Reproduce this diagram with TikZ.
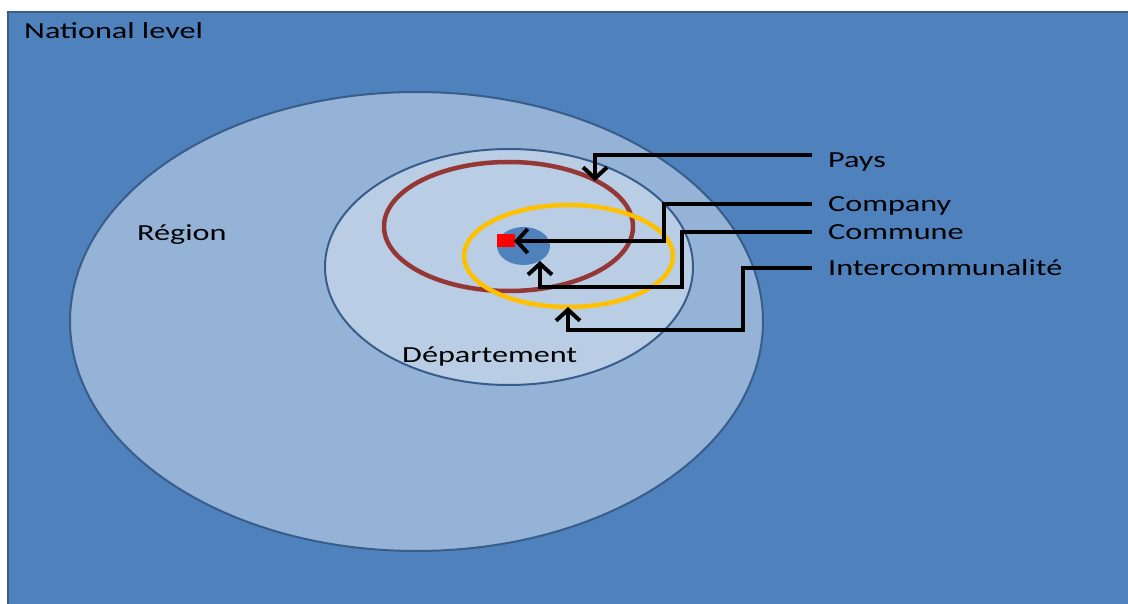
\documentclass[tikz,border=0pt]{standalone}
\usepackage{fontspec}
\setmainfont[FakeStretch=1.4]{Carlito}
\usetikzlibrary{arrows.meta}
\definecolor{natblue}{HTML}{4F81BD}
\definecolor{rimblue}{HTML}{385D8A}
\definecolor{regfill}{HTML}{95B3D7}
\definecolor{depfill}{HTML}{B9CDE5}
\definecolor{paysred}{HTML}{953735}
\definecolor{interyel}{HTML}{FFC000}
\tikzset{
  lvl/.style={fill=#1, draw=rimblue, line width=2pt},
  ring/.style={draw=#1, line width=4.5pt},
  lbl/.style={anchor=base west, inner sep=0pt, text height=15pt, text depth=0pt},
  side/.style={lbl, inner xsep=16pt},
  pointer/.style={->, draw=black, line width=4pt, line join=miter}
}
\begin{document}
\begin{tikzpicture}[x=1pt, y=-1pt, >={Straight Barb[length=11pt,width=24pt]},
    font=\fontsize{23}{27}\selectfont]
  \useasboundingbox (0,0) rectangle (1128,604);
  % national level
  \fill[natblue] (8,12) rectangle (1128,604);
  \draw[rimblue, line width=2.5pt] (8,604) -- (8,12) -- (1128,12);
  \node[lbl] (national) at (24,39) {National level};
  % nested levels
  \draw[lvl=regfill] (416.5,321.5) ellipse [x radius=346.5, y radius=229.5];
  \draw[lvl=depfill] (509,267) ellipse [x radius=184, y radius=118];
  \draw[ring=paysred] (508.5,226.5) ellipse [x radius=124.5, y radius=64.5];
  \draw[ring=interyel] (568.5,256) ellipse [x radius=104.5, y radius=51];
  \fill[natblue] (523.5,246) ellipse [x radius=26.5, y radius=19];
  \fill[red] (497,234) rectangle (515,247);
  \node[lbl] (region) at (137,241) {Région};
  \node[lbl] (departement) at (402,362) {Département};
  % legend
  \node[side] (pays) at (812,168) {Pays};
  \node[side] (company) at (812,212) {Company};
  \node[side] (commune) at (812,240) {Commune};
  \node[side] (inter) at (812,276) {Intercommunalité};
  \coordinate (tPays) at (595,181);
  \coordinate (tCompany) at (514,241);
  \coordinate (tCommune) at (540,261);
  \coordinate (tInter) at (568,307);
  \draw[pointer] ([yshift=5pt]pays.west) -| (tPays);
  \draw[pointer] (company.west) -| (664,241) -- (tCompany);
  \draw[pointer] (commune.west) -| (682,287) -| (tCommune);
  \draw[pointer] (inter.west) -| (743,330) -| (tInter);
\end{tikzpicture}
\end{document}
